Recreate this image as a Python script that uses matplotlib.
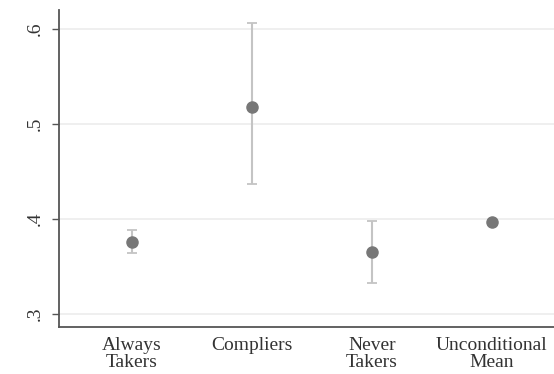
import matplotlib.pyplot as plt
import numpy as np

plt.rcParams['font.family'] = ['Liberation Serif', 'DejaVu Serif']

groups = ['Always\nTakers', 'Compliers', 'Never\nTakers', 'Unconditional\nMean']
means = [0.376, 0.518, 0.365, 0.397]
lower = [0.364, 0.437, 0.333, 0.397]
upper = [0.388, 0.606, 0.398, 0.397]
yticks = [0.3, 0.4, 0.5, 0.6]
ytick_labels = ['.3', '.4', '.5', '.6']

x = np.arange(1, len(groups) + 1)
means = np.array(means)
err = np.array([means - np.array(lower), np.array(upper) - means])

fig = plt.figure(figsize=(5.54, 3.74), dpi=100)
ax = fig.add_axes([0.1065, 0.1257, 0.8935, 0.8473])

ax.set_axisbelow(True)
for yt in yticks:
    ax.axhline(yt, color='#ececec', linewidth=1.2, zorder=0)

# error bars only where there is a spread
has_err = err.sum(axis=0) > 0
ax.errorbar(x[has_err], means[has_err], yerr=err[:, has_err], fmt='none',
            ecolor='#c4c4c4', elinewidth=1.5, capsize=3.8, capthick=1.3, zorder=2)
ax.plot(x, means, 'o', color='#777777', markersize=8, zorder=3)

ax.set_xlim(0.39, 4.52)
ax.set_ylim(0.2863, 0.62)
ax.set_xticks(x)
ax.set_xticklabels(groups, fontsize=14, color='#333333', linespacing=1.05)
ax.tick_params(axis='x', length=0, pad=7)
ax.set_yticks(yticks)
ax.set_yticklabels(ytick_labels, fontsize=14, rotation=90, va='center', color='#333333')
ax.tick_params(axis='y', length=5, width=1, color='#555555', pad=6)

for s in ['top', 'right']:
    ax.spines[s].set_visible(False)
for s in ['left', 'bottom']:
    ax.spines[s].set_color('#555555')
    ax.spines[s].set_linewidth(1.3)

fig.savefig('out.png', dpi=100)
